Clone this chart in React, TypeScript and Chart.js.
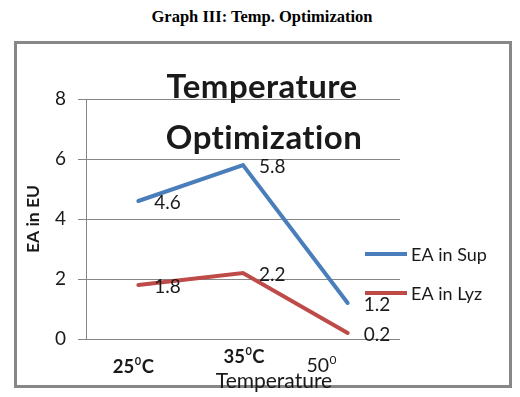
import React, { useEffect, useRef } from "react";
import { Chart, registerables } from "chart.js";

Chart.register(...registerables);

const pageTitle = "Graph III: Temp. Optimization";
const chartTitleLines = ["Temperature", "Optimization"];
const categories = ["25⁰C", "35⁰C", "50⁰"];
const tickMain = ["25", "35", "50"];
const tickSup = ["0", "0", "0"];
const tickUnit = ["C", "C", ""];
const seriesNames = ["EA in Sup", "EA in Lyz"];
const supValues = [4.6, 5.8, 1.2];
const lyzValues = [1.8, 2.2, 0.2];
const yTitle = "EA in EU";
const xTitle = "Temperature";
const yMin = 0;
const yMax = 8;
const yStep = 2;

const BLUE = "#4a7ebb";
const RED = "#be4b48";
const FONT = "Lato, 'Noto Sans', sans-serif";
const TEXT = "#1a1a1a";

const overlay = {
  id: "overlay",
  afterDatasetsDraw(chart: any) {
    const ctx = chart.ctx as any;
    const xs = chart.scales.x;
    ctx.save();
    ctx.fillStyle = TEXT;

    // chart title
    ctx.font = `bold 33px ${FONT}`;
    ctx.textAlign = "center";
    ctx.textBaseline = "alphabetic";
    ctx.letterSpacing = "0.4px";
    ctx.fillText(chartTitleLines[0], 262, 98);
    ctx.fillText(chartTitleLines[1], 264, 149);
    ctx.letterSpacing = "0px";

    // y title
    ctx.save();
    ctx.translate(39, 219);
    ctx.rotate(-Math.PI / 2);
    ctx.font = `bold 17.5px ${FONT}`;
    ctx.textAlign = "center";
    ctx.textBaseline = "alphabetic";
    ctx.fillText(yTitle, 0, 0);
    ctx.restore();

    // x tick labels
    const dx = [-5, 1, -26];
    const base = [373, 363, 372];
    const bold = [true, true, false];
    for (let i = 0; i < tickMain.length; i++) {
      const size = bold[i] ? 18.5 : 19.5;
      const w = bold[i] ? "bold " : "";
      ctx.font = `${w}${size}px ${FONT}`;
      const w1 = ctx.measureText(tickMain[i]).width;
      ctx.font = `${w}${Math.round(size * 0.6)}px ${FONT}`;
      const w2 = ctx.measureText(tickSup[i]).width;
      ctx.font = `${w}${size}px ${FONT}`;
      const w3 = ctx.measureText(tickUnit[i]).width;
      const total = w1 + w2 + w3 + 1;
      let x = xs.getPixelForValue(i) + dx[i] - total / 2;
      ctx.textAlign = "left";
      ctx.fillText(tickMain[i], x, base[i]);
      x += w1 + 0.5;
      ctx.font = `${w}${Math.round(size * 0.6)}px ${FONT}`;
      ctx.fillText(tickSup[i], x, base[i] - size * 0.42);
      x += w2 + 0.5;
      ctx.font = `${w}${size}px ${FONT}`;
      ctx.fillText(tickUnit[i], x, base[i]);
    }

    // x title
    ctx.font = `21px ${FONT}`;
    ctx.textAlign = "center";
    ctx.fillText(xTitle, 274, 388);

    // data labels
    ctx.font = `19px ${FONT}`;
    ctx.textAlign = "left";
    ctx.textBaseline = "middle";
    chart.data.datasets.forEach((ds: any, di: number) => {
      const meta = chart.getDatasetMeta(di);
      meta.data.forEach((pt: any, i: number) => {
        ctx.fillText(String(ds.data[i]), pt.x + 16, pt.y + 2);
      });
    });

    // legend
    const ly = [254, 293];
    const lc = [BLUE, RED];
    for (let i = 0; i < seriesNames.length; i++) {
      ctx.strokeStyle = lc[i];
      ctx.lineWidth = 4;
      ctx.beginPath();
      ctx.moveTo(365, ly[i]);
      ctx.lineTo(407, ly[i]);
      ctx.stroke();
      ctx.fillStyle = TEXT;
      ctx.font = `18px ${FONT}`;
      ctx.textBaseline = "middle";
      ctx.fillText(seriesNames[i], 411, ly[i] + 1);
    }
    ctx.restore();
  },
};

export default function App() {
  const ref = useRef<HTMLCanvasElement>(null);
  useEffect(() => {
    if (!ref.current) return;
    const chart = new Chart(ref.current, {
      type: "line",
      data: {
        labels: categories,
        datasets: [
          { label: seriesNames[0], data: supValues, borderColor: BLUE, borderWidth: 4, pointRadius: 0, tension: 0, borderCapStyle: "round" },
          { label: seriesNames[1], data: lyzValues, borderColor: RED, borderWidth: 4, pointRadius: 0, tension: 0, borderCapStyle: "round" },
        ],
      },
      options: {
        animation: false,
        responsive: false,
        devicePixelRatio: 1,
        layout: { padding: { left: 46, right: 120, top: 99, bottom: 58 } },
        plugins: { legend: { display: false }, title: { display: false }, tooltip: { enabled: false } },
        scales: {
          x: {
            offset: true,
            grid: { display: false },
            border: { display: false },
            ticks: { display: false },
            afterFit: (s: any) => { s.height = 0; },
          },
          y: {
            min: yMin,
            max: yMax,
            ticks: { stepSize: yStep, padding: 12, color: TEXT, font: { family: FONT, size: 19 } },
            grid: { color: "#868686", lineWidth: 1, tickLength: 8 },
            border: { display: true, color: "#868686", width: 1 },
            afterFit: (s: any) => { s.width = 40; },
          },
        },
      },
      plugins: [overlay],
    });
    return () => chart.destroy();
  }, []);

  return (
    <div style={{ position: "fixed", left: 0, top: 0, width: 520, height: 397, background: "#fff" }}>
      <div
        style={{
          position: "absolute",
          left: 0,
          top: 8,
          width: 524,
          textAlign: "center",
          font: "bold 16.5px 'Liberation Serif', 'Times New Roman', serif",
          lineHeight: "18px",
          color: "#000",
        }}
      >
        {pageTitle}
      </div>
      <div
        style={{
          position: "absolute",
          left: 14,
          top: 41,
          width: 498,
          height: 347,
          boxSizing: "border-box",
          border: "3px solid #878787",
        }}
      />
      <canvas ref={ref} width={520} height={397} style={{ position: "absolute", left: 0, top: 0, width: 520, height: 397 }} />
    </div>
  );
}
